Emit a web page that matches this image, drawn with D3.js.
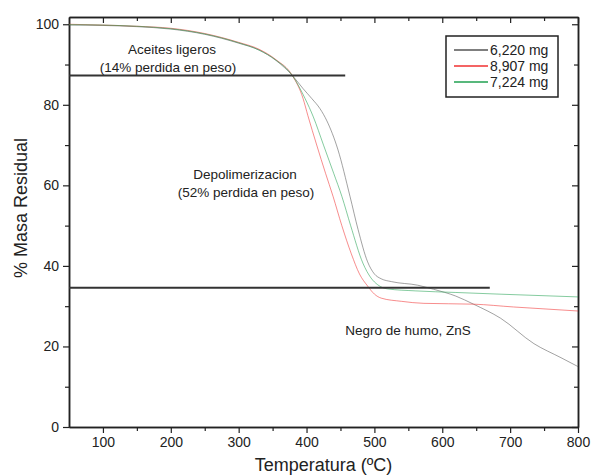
<!DOCTYPE html>
<html lang="es">
<head>
<meta charset="UTF-8">
<title>TGA</title>
<style>
  body { margin: 0; background: #fff; }
  text { font-family: "Liberation Sans", Arial, sans-serif; fill: #222; }
</style>
</head>
<body>
<script src="https://d3js.org/d3.v7.min.js"></script>
<script>
// series: [temperatura, % masa]
const names = ["6,220 mg", "8,907 mg", "7,224 mg"];
const colors = ["#555", "#f03030", "#20a050"];

const negro = [[50, 99.8], [100, 99.7], [150, 99.4], [200, 98.8], [250, 97.5], [300, 95.3], [330, 93.6], [355, 91],
  [379, 87.3], [395, 84], [408, 81.5], [420, 79], [430, 76], [446, 69], [464, 57.3], [476, 49], [490, 41],
  [500, 38], [510, 36.8], [525, 36.1], [564, 35.2], [587, 34.2], [620, 32.5], [646, 30.5], [686, 27],
  [735, 20.7], [775, 17.2], [800, 15]];
const rojo = [[50, 100], [100, 99.8], [150, 99.5], [200, 99], [250, 97.7], [300, 95.5], [330, 93.8], [355, 91.2],
  [379, 87.3], [395, 81.5], [402, 77.3], [415, 70], [428, 63], [439, 57.3], [452, 50], [466, 43], [478, 38],
  [490, 35], [500, 33], [510, 32], [540, 31.2], [573, 30.7], [646, 30.5], [705, 29.8], [800, 28.8]];
const verde = [[50, 99.9], [100, 99.8], [150, 99.5], [200, 98.9], [250, 97.6], [300, 95.4], [330, 93.6], [355, 91.1],
  [379, 87.3], [398, 81.5], [410, 77], [425, 70], [440, 63], [452, 57.3], [465, 50], [483, 40.7], [495, 37],
  [505, 35.3], [519, 34.3], [560, 33.8], [620, 33.4], [682, 33], [800, 32.3]];
const series = [negro, rojo, verde];

// lineas horizontales: [valor, T inicio, T fin]
const refLines = [[87.3, 50, 457], [34.6, 50, 670]];

const xMajor = [100, 200, 300, 400, 500, 600, 700, 800];
const xMinor = [150, 250, 350, 450, 550, 650, 750];
const yMajor = [0, 20, 40, 60, 80, 100];
const yMinor = [10, 30, 50, 70, 90];

const W = 593, H = 475;
const L = 69, R = 578, T = 17, B = 427;

const svg = d3.select("body").append("svg").attr("width", W).attr("height", H);

const x = d3.scaleLinear().domain([50, 800]).range([L, R]);
const y = d3.scaleLinear().domain([0, 101.8]).range([B, T]);

// ejes
function axis(gen, tx, ty, vals, size, labels) {
  const g = svg.append("g").attr("transform", "translate(" + tx + "," + ty + ")")
    .call(gen.tickValues(vals).tickSize(size).tickSizeOuter(0).tickPadding(4)
      .tickFormat(labels ? d3.format("d") : ""));
  g.select(".domain").attr("stroke", "#222").attr("stroke-width", 1.5);
  g.selectAll(".tick line").attr("stroke", "#222").attr("stroke-width", 1.2);
  g.selectAll("text").attr("font-size", 14).attr("font-family", "Liberation Sans, Arial, sans-serif").attr("fill", "#222");
  return g;
}
axis(d3.axisBottom(x), 0, B, xMajor, 6, true);
axis(d3.axisBottom(x), 0, B, xMinor, 4, false);
axis(d3.axisLeft(y), L, 0, yMajor, 6, true);
axis(d3.axisLeft(y), L, 0, yMinor, 4, false);
axis(d3.axisTop(x), 0, T, xMajor, -6, false);
axis(d3.axisTop(x), 0, T, xMinor, -4, false);
axis(d3.axisRight(y), R, 0, yMajor, -6, false);
axis(d3.axisRight(y), R, 0, yMinor, -4, false);

// titulos
svg.append("text").attr("x", (L + R) / 2).attr("y", 471).attr("text-anchor", "middle")
  .attr("font-size", 18).text("Temperatura (ºC)");
svg.append("text").attr("transform", "translate(27,208) rotate(-90)").attr("text-anchor", "middle")
  .attr("font-size", 18).text("% Masa Residual");

// curvas
const line = d3.line().x(d => x(d[0])).y(d => y(d[1])).curve(d3.curveMonotoneX);
series.forEach((s, i) => {
  svg.append("path").attr("d", line(s)).attr("fill", "none")
    .attr("stroke", colors[i]).attr("stroke-width", 1).attr("stroke-opacity", 0.55);
});

// lineas de referencia
refLines.forEach(r => {
  svg.append("line").attr("x1", x(r[1])).attr("x2", x(r[2])).attr("y1", y(r[0])).attr("y2", y(r[0]))
    .attr("stroke", "#333").attr("stroke-width", 2);
});

// anotaciones
function note(cx, cy, s) {
  svg.append("text").attr("x", cx).attr("y", cy).attr("text-anchor", "middle")
    .attr("font-size", 13.5).text(s);
}
note(172, 54, "Aceites ligeros");
note(168, 72, "(14% perdida en peso)");
note(245, 179, "Depolimerizacion");
note(246, 197, "(52% perdida en peso)");
note(408, 335, "Negro de humo, ZnS");

// leyenda
const lg = svg.append("g").attr("transform", "translate(446,36)");
lg.append("rect").attr("width", 112).attr("height", 61).attr("fill", "#fff")
  .attr("stroke", "#222").attr("stroke-width", 1.5);
names.forEach((n, i) => {
  const ly = 14 + i * 16;
  lg.append("line").attr("x1", 8).attr("x2", 42).attr("y1", ly).attr("y2", ly)
    .attr("stroke", colors[i]).attr("stroke-width", 1.5);
  lg.append("text").attr("x", 44).attr("y", ly + 5).attr("font-size", 14).text(n);
});
</script>
</body>
</html>
